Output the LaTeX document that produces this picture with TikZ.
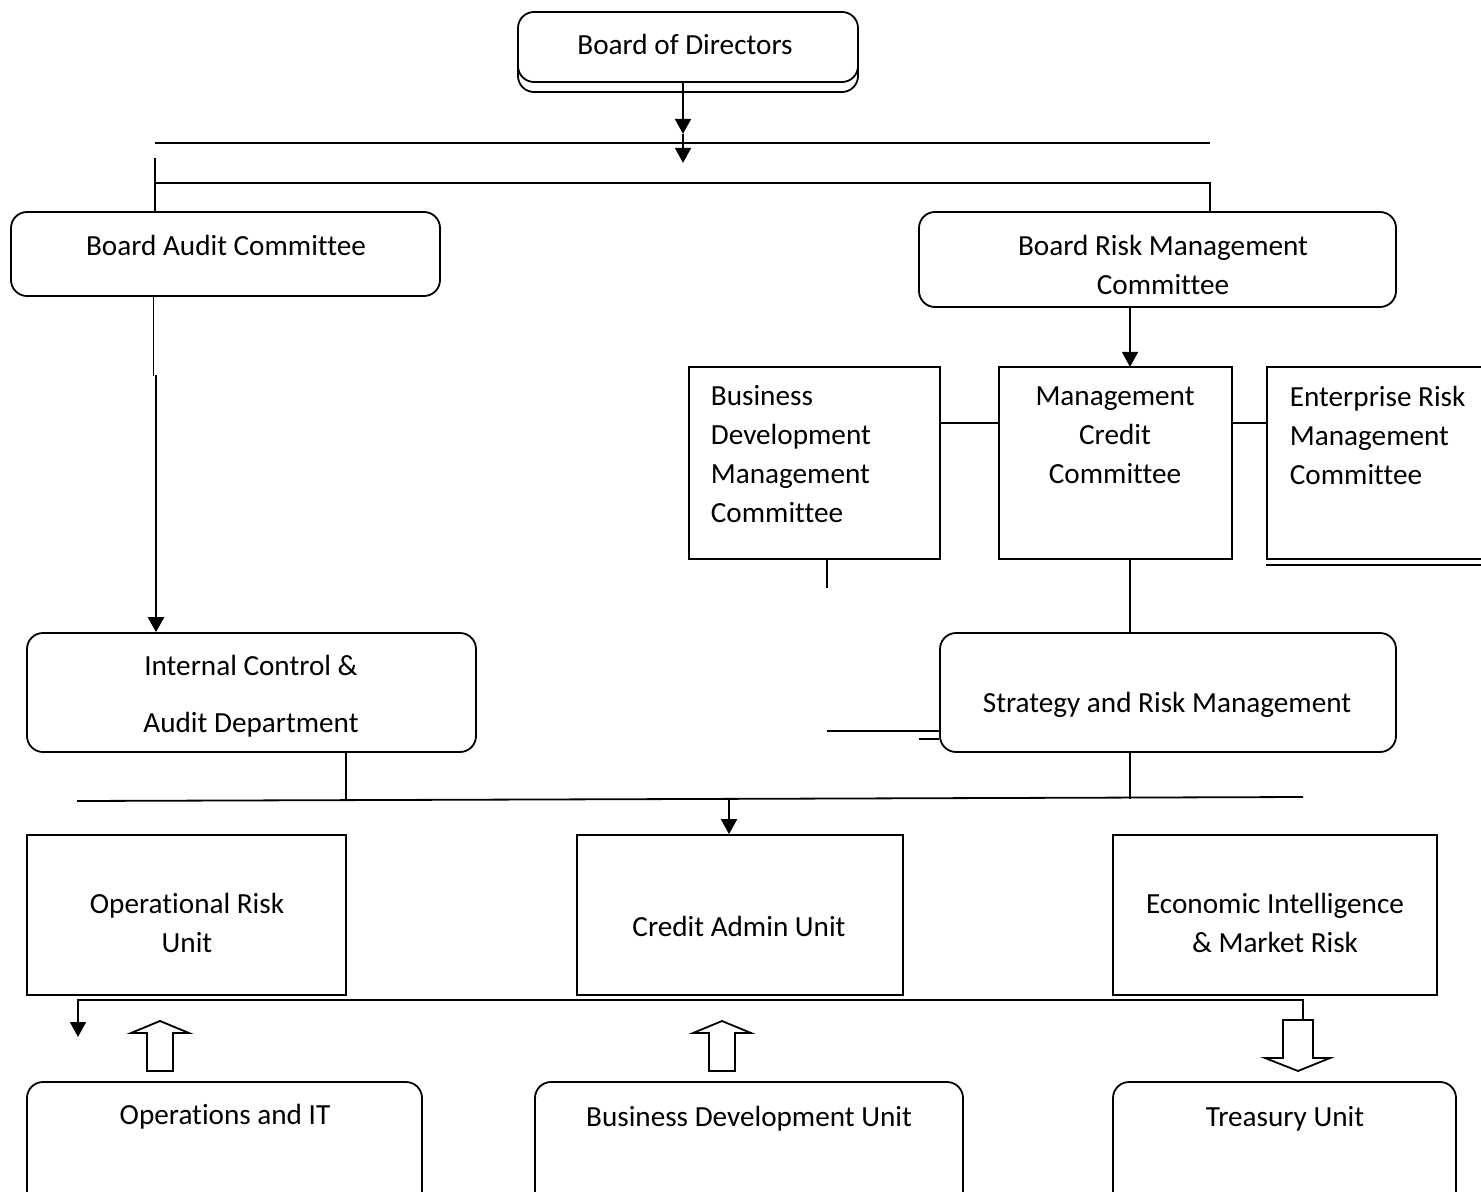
\documentclass[tikz,border=0pt]{standalone}
\usepackage{fontspec}
\setmainfont{Carlito}[Ligatures=NoCommon]
\usetikzlibrary{arrows.meta}

\begin{document}
\begin{tikzpicture}[
  x=0.5pt, y=-0.5pt,
  line width=0.9pt,
  >={Triangle[length=7.5pt,width=8pt]},
  every node/.style={font=\fontsize{14.6}{19.5}\selectfont},
  box/.style 2 args={draw, minimum width=#1*0.5pt, minimum height=#2*0.5pt, inner sep=0pt},
  rbox/.style 2 args={box={#1}{#2}, rounded corners=8pt},
  tag/.style={align=center, inner sep=0pt},
  ltag/.style={align=left, inner sep=0pt, anchor=west},
]
\useasboundingbox (0,0) rectangle (1481,1192);
\coordinate (xl) at (155,0);
\coordinate (xa) at (1130,0);
\coordinate (xb) at (729,0);

% top
\node[rbox={340}{70}] (bods) at (688,57) {};
\node[rbox={340}{70}, fill=white] (bod) at (688,47) {};
\node[tag] (bod-t) at (685,44) {Board of Directors};
\draw[->] ([xshift=-2.5pt]bod.south) -- ++(0,51);
\draw[->] ([xshift=-2.5pt]bod.south) ++(0,51) -- ++(0,29);
\draw (155,143) -- (1210,143);

% committees
\node[rbox={429}{84}] (bac) at (225.5,254) {};
\node[tag] (bac-t) at (226,245) {Board Audit Committee};
\node[rbox={477}{95}] (brmc) at (1157.5,259.5) {};
\node[tag] (brmc-t) at (1163,264.5) {Board Risk Management\\Committee};
\draw (155,158) -- (bac.north -| xl);
\draw (155,183) -| (brmc.north -| 1210,0);
\draw[->] (brmc.south -| xa) -- ++(0,59);

\node[box={251}{192}] (bdmc) at (814.5,463) {};
\node[ltag] (bdmc-t) at (710,454.5) {Business\\Development\\Management\\Committee};
\node[box={233}{192}] (mcc) at (1115.5,463) {};
\node[tag] (mcc-t) at (1115,435) {Management\\Credit\\Committee};
\node[box={233}{192}] (ermc) at (1383.5,463) {};
\node[ltag] (ermc-t) at (1289,435) {Enterprise Risk\\Management\\Committee};
\draw ([yshift=-2.5pt]ermc.south west) -- ([yshift=-2.5pt]ermc.south east);
\draw ([yshift=20pt]bdmc.east) -- ([yshift=20pt]mcc.west);
\draw ([yshift=20pt]mcc.east) -- ([yshift=20pt]ermc.west);
\draw ([xshift=6.25pt]bdmc.south) -- ++(0,28);

% departments
\node[rbox={449}{119}] (icad) at (251.5,692.5) {};
\node[tag] (icad-t) at (251,696.5) {Internal Control \&\\[9pt]Audit Department};
\node[rbox={456}{119}] (srm) at (1168,692.5) {};
\node[tag] (srm-t) at (1167,705) {Strategy and Risk Management};
\draw ([xshift=-36pt]bac.south) -- ++(0,79);
\draw[->, line width=1.4pt] (156,375) -- (icad.north -| 156,0);
\draw (mcc.south -| xa) -- (srm.north -| xa);
\draw ([yshift=-19.25pt]srm.west) -- ++(-112,0);
\draw ([yshift=-23.25pt]srm.west) -- ++(-20,0);
\draw ([xshift=47.25pt]icad.south) -- ++(0,46);
\draw (srm.south -| xa) -- ++(0,46);
\draw (77,801) -- (1303,797);

% units
\node[box={319}{160}] (oru) at (186.5,915) {};
\node[tag] (oru-t) at (187,923) {Operational Risk\\Unit};
\node[box={326}{160}] (cau) at (740,915) {};
\node[tag] (cau-t) at (739,926) {Credit Admin Unit};
\node[box={324}{160}] (eimr) at (1275,915) {};
\node[tag] (eimr-t) at (1275,923) {Economic Intelligence\\\& Market Risk};
\draw[->] (729,800) -- (cau.north -| xb);
\draw[->] (1303,1020) -- (1303,1000) -- (78,1000) -- (78,1037);
\draw[fill=white] (1283,1020) -- (1313,1020) -- (1313,1058) -- (1330,1058) -- (1298,1071) -- (1265,1058) -- (1283,1058) -- cycle;
\foreach \ax in {160,722}
  \draw (\ax-13,1071) -- (\ax+13,1071) -- (\ax+13,1033) -- (\ax+29,1033) -- (\ax,1021) -- (\ax-29,1033) -- (\ax-13,1033) -- cycle;

\node[rbox={395}{128}] (oit) at (224.5,1146) {};
\node[tag] (oit-t) at (225,1117) {Operations and IT};
\node[rbox={428}{128}] (bdu) at (749,1146) {};
\node[tag] (bdu-t) at (749,1119) {Business Development Unit};
\node[rbox={343}{128}] (tu) at (1284.5,1146) {};
\node[tag] (tu-t) at (1285,1119) {Treasury Unit};
\end{tikzpicture}
\end{document}
